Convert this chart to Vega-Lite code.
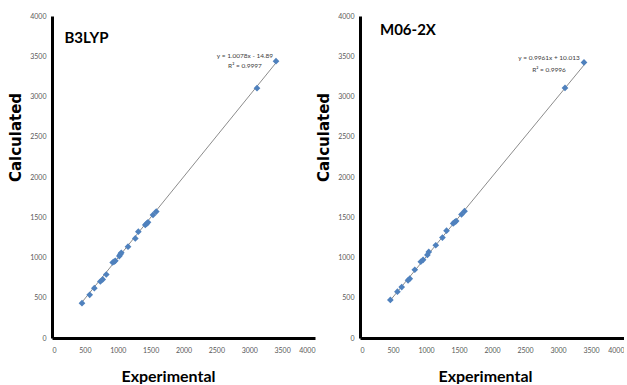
{
  "$schema": "https://vega.github.io/schema/vega-lite/v6.json",
  "padding": {"left": 8, "top": 12, "right": 0, "bottom": 0},
  "background": "white",
  "bounds": "flush",
  "spacing": 45,
  "config": {
    "view": {"stroke": null},
    "axis": {
      "grid": false,
      "domainColor": "black",
      "domainWidth": 3,
      "ticks": false,
      "labelFontSize": 7,
      "labelColor": "#595959",
      "labelFont": "Lato",
      "format": "d"
    },
    "axisX": {
      "labelPadding": 8,
      "titleFont": "Lato",
      "titleFontSize": 16,
      "titleFontWeight": "bold",
      "titleColor": "black",
      "titlePadding": 15
    },
    "axisY": {
      "labelPadding": 6,
      "titleFont": "DejaVu Sans",
      "titleFontSize": 15,
      "titleFontWeight": "bold",
      "titleColor": "black",
      "titlePadding": 6,
      "titleY": 121
    }
  },
  "datasets": {
    "b3lyp": [
      {"exp": 456, "calc": 432},
      {"exp": 573, "calc": 536},
      {"exp": 644, "calc": 619},
      {"exp": 735, "calc": 702},
      {"exp": 771, "calc": 727},
      {"exp": 826, "calc": 789},
      {"exp": 923, "calc": 938},
      {"exp": 945, "calc": 950},
      {"exp": 963, "calc": 959},
      {"exp": 1024, "calc": 1018},
      {"exp": 1040, "calc": 1040},
      {"exp": 1054, "calc": 1059},
      {"exp": 1156, "calc": 1134},
      {"exp": 1267, "calc": 1237},
      {"exp": 1313, "calc": 1321},
      {"exp": 1419, "calc": 1404},
      {"exp": 1440, "calc": 1420},
      {"exp": 1460, "calc": 1437},
      {"exp": 1536, "calc": 1529},
      {"exp": 1586, "calc": 1570},
      {"exp": 3118, "calc": 3103},
      {"exp": 3407, "calc": 3439}
    ],
    "m062x": [
      {"exp": 460, "calc": 473},
      {"exp": 567, "calc": 576},
      {"exp": 632, "calc": 633},
      {"exp": 728, "calc": 716},
      {"exp": 754, "calc": 737},
      {"exp": 830, "calc": 848},
      {"exp": 921, "calc": 947},
      {"exp": 956, "calc": 971},
      {"exp": 1021, "calc": 1032},
      {"exp": 1042, "calc": 1069},
      {"exp": 1148, "calc": 1152},
      {"exp": 1249, "calc": 1247},
      {"exp": 1311, "calc": 1333},
      {"exp": 1412, "calc": 1423},
      {"exp": 1435, "calc": 1440},
      {"exp": 1457, "calc": 1452},
      {"exp": 1538, "calc": 1535},
      {"exp": 1584, "calc": 1576},
      {"exp": 3106, "calc": 3107},
      {"exp": 3394, "calc": 3423}
    ],
    "trend1": [{"exp": 450, "calc": 438.6}, {"exp": 3430, "calc": 3441.9}],
    "trend2": [{"exp": 450, "calc": 458.3}, {"exp": 3420, "calc": 3416.7}],
    "labels1": [
      {"exp": 190, "calc": 3664, "text": "B3LYP", "kind": "title"},
      {"exp": 2935, "calc": 3501, "text": "y = 1.0078x - 14.89", "kind": "eq"},
      {"exp": 2935, "calc": 3377, "text": "R² = 0.9997", "kind": "eq"}
    ],
    "labels2": [
      {"exp": 303, "calc": 3765, "text": "M06-2X", "kind": "title"},
      {"exp": 2864, "calc": 3480, "text": "y = 0.9961x + 10.013", "kind": "eq"},
      {"exp": 2864, "calc": 3331, "text": "R² = 0.9996", "kind": "eq"}
    ]
  },
  "hconcat": [
    {
      "width": 263,
      "height": 322,
      "encoding": {
        "x": {"field": "exp", "type": "quantitative", "title": "Experimental", "scale": {"domain": [0, 4000], "nice": false}, "axis": {"values": [0, 500, 1000, 1500, 2000, 2500, 3000, 3500, 4000], "titleX": 116}},
        "y": {"field": "calc", "type": "quantitative", "title": "Calculated", "scale": {"domain": [0, 4000], "nice": false}, "axis": {"values": [0, 500, 1000, 1500, 2000, 2500, 3000, 3500, 4000]}}
      },
      "layer": [
        {"data": {"name": "trend1"}, "mark": {"type": "line", "color": "#8c8c8c", "strokeWidth": 1}},
        {"data": {"name": "b3lyp"}, "mark": {"type": "point", "shape": "diamond", "filled": true, "color": "#4f81bd", "size": 45, "opacity": 1}},
        {"data": {"name": "labels1"}, "transform": [{"filter": "datum.kind == 'title'"}], "mark": {"type": "text", "align": "left", "baseline": "alphabetic", "font": "Lato", "fontSize": 15, "fontWeight": "bold", "color": "black"}, "encoding": {"text": {"field": "text"}}},
        {"data": {"name": "labels1"}, "transform": [{"filter": "datum.kind == 'eq'"}], "mark": {"type": "text", "align": "center", "baseline": "middle", "font": "Lato", "fontSize": 6.5, "color": "#404040"}, "encoding": {"text": {"field": "text"}}}
      ]
    },
    {
      "width": 264,
      "height": 322,
      "encoding": {
        "x": {"field": "exp", "type": "quantitative", "title": "Experimental", "scale": {"domain": [0, 4000], "nice": false}, "axis": {"values": [0, 500, 1000, 1500, 2000, 2500, 3000, 3500, 4000], "titleX": 125}},
        "y": {"field": "calc", "type": "quantitative", "title": "Calculated", "scale": {"domain": [0, 4000], "nice": false}, "axis": {"values": [0, 500, 1000, 1500, 2000, 2500, 3000, 3500, 4000]}}
      },
      "layer": [
        {"data": {"name": "trend2"}, "mark": {"type": "line", "color": "#8c8c8c", "strokeWidth": 1}},
        {"data": {"name": "m062x"}, "mark": {"type": "point", "shape": "diamond", "filled": true, "color": "#4f81bd", "size": 45, "opacity": 1}},
        {"data": {"name": "labels2"}, "transform": [{"filter": "datum.kind == 'title'"}], "mark": {"type": "text", "align": "left", "baseline": "alphabetic", "font": "Lato", "fontSize": 15, "fontWeight": "bold", "color": "black"}, "encoding": {"text": {"field": "text"}}},
        {"data": {"name": "labels2"}, "transform": [{"filter": "datum.kind == 'eq'"}], "mark": {"type": "text", "align": "center", "baseline": "middle", "font": "Lato", "fontSize": 6.5, "color": "#404040"}, "encoding": {"text": {"field": "text"}}}
      ]
    }
  ]
}
